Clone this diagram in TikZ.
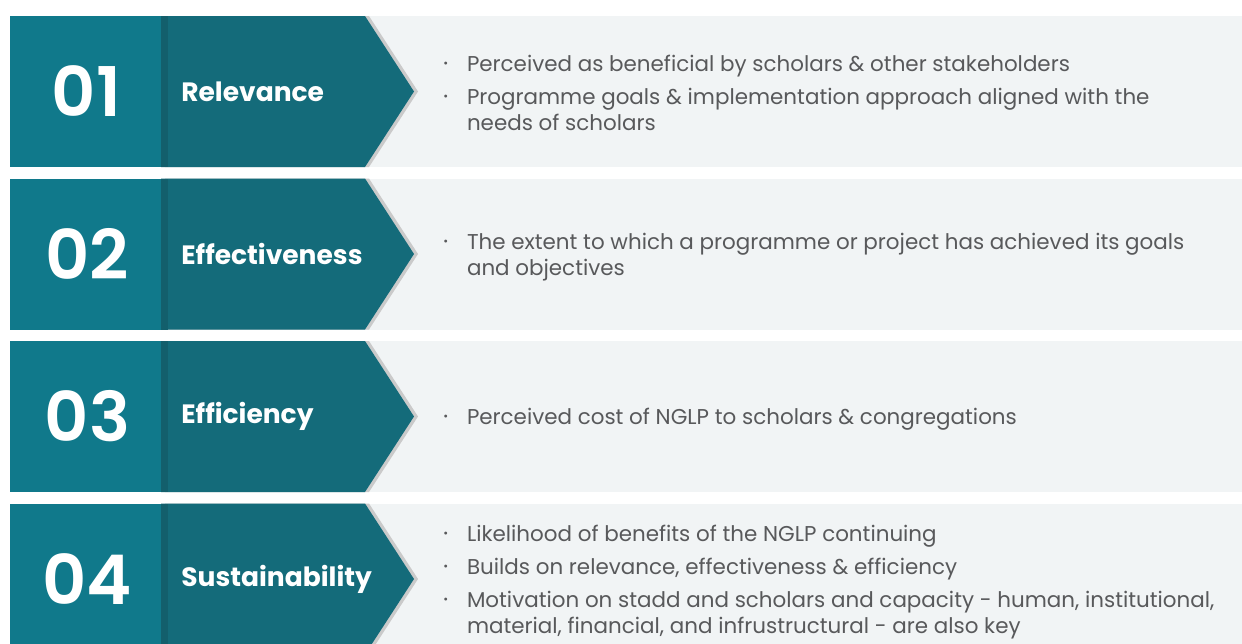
\documentclass[tikz,border=0pt]{standalone}
\usepackage{fontspec}
\setmainfont{Poppins}
\newfontfamily\numfont{Poppins SemiBold}
\usepackage{graphicx}

\definecolor{tealleft}{HTML}{10798B}
\definecolor{tealarrow}{HTML}{146B7A}
\definecolor{tealedge}{HTML}{135F6C}
\definecolor{panelgray}{HTML}{F1F4F5}
\definecolor{arrowshade}{HTML}{CACACA}
\definecolor{bodygray}{HTML}{58595B}

% one band: panel, shaded arrow, arrow, number block (#1 = top edge)
\def\band(#1){
	\fill[panelgray] (343, #1) rectangle (1242, #1+151);
	\fill[arrowshade] (165, #1) -- (369, #1) -- (418, #1+75.5) -- (369, #1+151) -- (165, #1+151) -- cycle;
	\fill[tealarrow] (161, #1) -- (365, #1) -- (414, #1+75.5) -- (365, #1+151) -- (161, #1+151) -- cycle;
	\fill[tealedge] (161, #1) rectangle (168, #1+151);
	\fill[tealleft] (10, #1) rectangle (161, #1+151);
}
\newcommand{\dotitem}{\raisebox{0.35ex}{\scalebox{0.55}{\textbullet}}}

\tikzset{
	num/.style={text=white, font=\numfont\fontsize{39}{39}\selectfont, inner sep=0pt},
	ttl/.style={anchor=west, text=white, font=\bfseries\fontsize{15.1}{18}\selectfont, inner sep=0pt},
	pts/.style={anchor=west, text=bodygray, font=\fontsize{12.2}{14.8}\selectfont, inner sep=0pt}
}

\begin{document}
\begin{tikzpicture}[x=0.02cm, y=-0.02cm]
		%%%%% START %%%%%
		
		\clip (0, 0) rectangle (1242, 643);
		\fill[white] (0, 0) rectangle (1242, 643);
		
		\band(16)
		\band(178.5)
		\band(341)
		\band(503.5)
		
		\node[num] (num1) at (86.5, 91.5) {01};
		\node[ttl] (ttl1) at (181, 91.5) {Relevance};
		\node[pts] (pts1) at (443, 96) {\begin{tabular}{@{}l@{\hspace{10.7pt}}l@{}}
			\dotitem & Perceived as beneficial by scholars \& other stakeholders\\[4pt]
			\dotitem & Programme goals \& implementation approach aligned with the\\
			& needs of scholars
		\end{tabular}};
		
		\node[num] (num2) at (87.5, 254) {02};
		\node[ttl] (ttl2) at (181, 254) {Effectiveness};
		\node[pts] (pts2) at (443, 257) {\begin{tabular}{@{}l@{\hspace{10.7pt}}l@{}}
			\dotitem & The extent to which a programme or project has achieved its goals\\
			& and objectives
		\end{tabular}};
		
		\node[num] (num3) at (87.5, 416.5) {03};
		\node[ttl] (ttl3) at (181, 416.5) {Efficiency};
		\node[pts] (pts3) at (443, 419.5) {\begin{tabular}{@{}l@{\hspace{10.7pt}}l@{}}
			\dotitem & Perceived cost of NGLP to scholars \& congregations
		\end{tabular}};
		
		\node[num] (num4) at (87.5, 579) {04};
		\node[ttl] (ttl4) at (181, 579) {Sustainability};
		\node[pts] (pts4) at (443, 582) {\begin{tabular}{@{}l@{\hspace{10.7pt}}l@{}}
			\dotitem & Likelihood of benefits of the NGLP continuing\\[4pt]
			\dotitem & Builds on relevance, effectiveness \& efficiency\\[4pt]
			\dotitem & Motivation on stadd and scholars and capacity - human, institutional,\\
			& material, financial, and infrustructural - are also key
		\end{tabular}};
		
		%%%%% END %%%%%
\end{tikzpicture}
\end{document}
